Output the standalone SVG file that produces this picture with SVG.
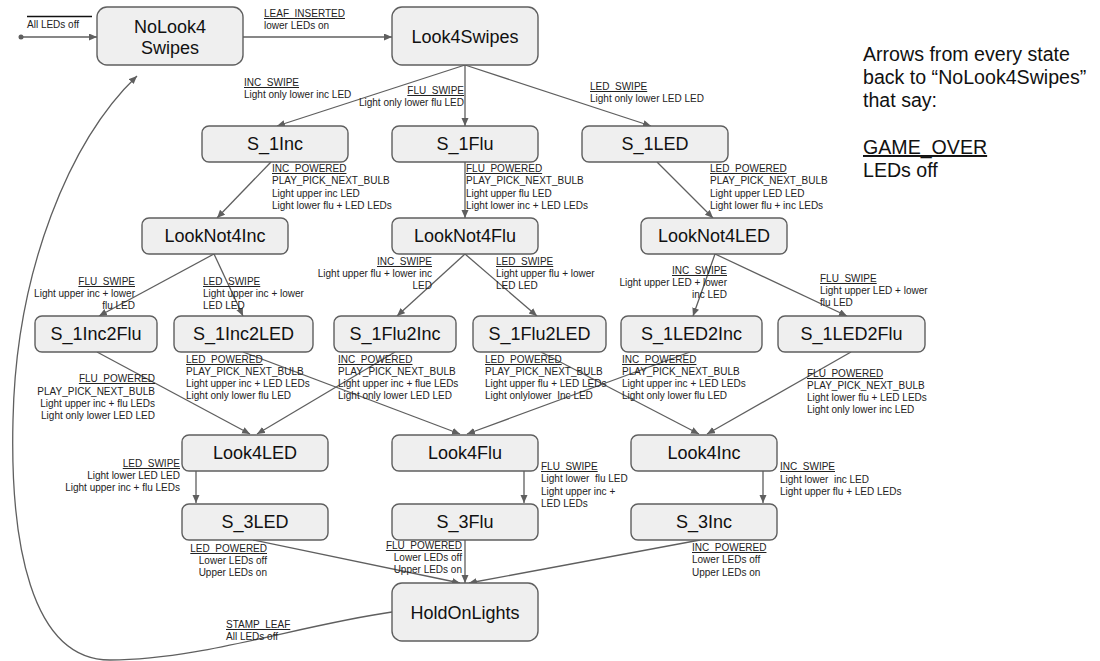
<svg xmlns="http://www.w3.org/2000/svg" width="1100" height="661" viewBox="0 0 1100 661">
<style>
.n rect{fill:#efefef;stroke:#5f5f5f;stroke-width:1.4}
.n text{font-family:"Liberation Sans",Arial,sans-serif;font-size:18px;fill:#111;text-anchor:middle}
.e path,.e line{stroke:#5f5f5f;stroke-width:1.3;fill:none}
.l{font-family:"Liberation Sans",Arial,sans-serif;font-size:10px;fill:#222}
.u{text-decoration:underline}
.r{text-anchor:end}
.big{font-family:"Liberation Sans",Arial,sans-serif;font-size:19.6px;fill:#111}
</style>
<defs>
<marker id="a" markerUnits="userSpaceOnUse" markerWidth="9" markerHeight="8" refX="8" refY="3.5" orient="auto">
<path d="M0,0 L8,3.5 L0,7 z" fill="#5f5f5f"/>
</marker>
</defs>
<rect width="1100" height="661" fill="#fff"/>

<g class="e" id="connectors" marker-end="url(#a)">
<line x1="21" y1="37" x2="97" y2="37"/>
<line x1="243" y1="37" x2="392" y2="37"/>
<line x1="465" y1="65" x2="277" y2="126"/>
<line x1="465" y1="65" x2="465" y2="126"/>
<line x1="465" y1="65" x2="651" y2="126"/>
<line x1="271" y1="162" x2="217" y2="218"/>
<line x1="465" y1="162" x2="465" y2="218"/>
<line x1="657" y1="162" x2="713" y2="218"/>
<line x1="214" y1="254" x2="99" y2="316"/>
<line x1="214" y1="254" x2="243" y2="316"/>
<line x1="465" y1="254" x2="397" y2="316"/>
<line x1="465" y1="254" x2="537" y2="316"/>
<line x1="715" y1="254" x2="693" y2="316"/>
<line x1="715" y1="254" x2="847" y2="316"/>
<line x1="97" y1="352" x2="250" y2="434"/>
<line x1="243" y1="352" x2="460" y2="434"/>
<line x1="395" y1="352" x2="257" y2="434"/>
<line x1="541" y1="352" x2="699" y2="434"/>
<line x1="690" y1="352" x2="467" y2="434"/>
<line x1="851" y1="352" x2="707" y2="434"/>
<line x1="196" y1="471" x2="196" y2="503"/>
<line x1="524" y1="471" x2="524" y2="503"/>
<line x1="763" y1="471" x2="763" y2="503"/>
<line x1="253" y1="540" x2="460" y2="583"/>
<line x1="465" y1="540" x2="465" y2="583"/>
<line x1="700" y1="540" x2="469" y2="583"/>
<path d="M392,612 C300,625 200,660 110,660 C30,660 10,540 13,420 C16,270 70,140 137,76"/>
</g>
<circle cx="21" cy="37" r="2.5" fill="#5f5f5f"/>

<g id="labels">
<line x1="27" y1="16.5" x2="92" y2="16.5" stroke="#111" stroke-width="1.5"/>
<text class="l" x="27" y="28">All LEDs off</text>
<text class="l u" x="264" y="17">LEAF_INSERTED</text>
<text class="l" x="264" y="29">lower LEDs on</text>
<text class="l u" x="244" y="86">INC_SWIPE</text>
<text class="l" x="244" y="98">Light only lower inc LED</text>
<text class="l u r" x="464" y="94">FLU_SWIPE</text>
<text class="l r" x="464" y="106">Light only lower flu LED</text>
<text class="l u" x="590" y="90">LED_SWIPE</text>
<text class="l" x="590" y="102">Light only lower LED LED</text>

<text class="l u" x="272" y="172">INC_POWERED</text>
<text class="l" x="272" y="184">PLAY_PICK_NEXT_BULB</text>
<text class="l" x="272" y="197">Light upper inc LED</text>
<text class="l" x="272" y="209">Light lower flu + LED LEDs</text>
<text class="l u" x="466" y="172">FLU_POWERED</text>
<text class="l" x="466" y="184">PLAY_PICK_NEXT_BULB</text>
<text class="l" x="466" y="197">Light upper flu LED</text>
<text class="l" x="466" y="209">Light lower inc + LED LEDs</text>
<text class="l u" x="710" y="172">LED_POWERED</text>
<text class="l" x="710" y="184">PLAY_PICK_NEXT_BULB</text>
<text class="l" x="710" y="197">Light upper LED LED</text>
<text class="l" x="710" y="209">Light lower flu + inc LEDs</text>

<text class="l u r" x="135" y="285">FLU_SWIPE</text>
<text class="l r" x="135" y="297">Light upper inc + lower</text>
<text class="l r" x="135" y="309">flu LED</text>
<text class="l u" x="203" y="285">LED_SWIPE</text>
<text class="l" x="203" y="297">Light upper inc + lower</text>
<text class="l" x="203" y="309">LED LED</text>
<text class="l u r" x="432" y="265">INC_SWIPE</text>
<text class="l r" x="432" y="277">Light upper flu + lower inc</text>
<text class="l r" x="432" y="289">LED</text>
<text class="l u" x="496" y="265">LED_SWIPE</text>
<text class="l" x="496" y="277">Light upper flu + lower</text>
<text class="l" x="496" y="289">LED LED</text>
<text class="l u r" x="727" y="274">INC_SWIPE</text>
<text class="l r" x="727" y="286">Light upper LED + lower</text>
<text class="l r" x="727" y="298">inc LED</text>
<text class="l u" x="820" y="282">FLU_SWIPE</text>
<text class="l" x="820" y="294">Light upper LED + lower</text>
<text class="l" x="820" y="306">flu LED</text>

<text class="l u r" x="155" y="382">FLU_POWERED</text>
<text class="l r" x="155" y="395">PLAY_PICK_NEXT_BULB</text>
<text class="l r" x="155" y="407">Light upper inc + flu LEDs</text>
<text class="l r" x="155" y="419">Light only lower LED LED</text>
<text class="l u" x="186" y="363">LED_POWERED</text>
<text class="l" x="186" y="375">PLAY_PICK_NEXT_BULB</text>
<text class="l" x="186" y="387">Light upper inc + LED LEDs</text>
<text class="l" x="186" y="399">Light only lower flu LED</text>
<text class="l u" x="338" y="363">INC_POWERED</text>
<text class="l" x="338" y="375">PLAY_PICK_NEXT_BULB</text>
<text class="l" x="338" y="387">Light upper inc + flue LEDs</text>
<text class="l" x="338" y="399">Light only lower LED LED</text>
<text class="l u" x="485" y="363">LED_POWERED</text>
<text class="l" x="485" y="375">PLAY_PICK_NEXT_BULB</text>
<text class="l" x="485" y="387">Light upper flu + LED LEDs</text>
<text class="l" x="485" y="399" xml:space="preserve">Light onlylower  Inc LED</text>
<text class="l u" x="622" y="363">INC_POWERED</text>
<text class="l" x="622" y="375">PLAY_PICK_NEXT_BULB</text>
<text class="l" x="622" y="387">Light upper inc + LED LEDs</text>
<text class="l" x="622" y="399">Light only lower flu LED</text>
<text class="l u" x="807" y="377">FLU_POWERED</text>
<text class="l" x="807" y="389">PLAY_PICK_NEXT_BULB</text>
<text class="l" x="807" y="401">Light lower flu + LED LEDs</text>
<text class="l" x="807" y="413">Light only lower inc LED</text>

<text class="l u r" x="180" y="467">LED_SWIPE</text>
<text class="l r" x="180" y="479">Light lower LED LED</text>
<text class="l r" x="180" y="491">Light upper inc + flu LEDs</text>
<text class="l u" x="541" y="470">FLU_SWIPE</text>
<text class="l" x="541" y="482" xml:space="preserve">Light lower  flu LED</text>
<text class="l" x="541" y="495">Light upper inc +</text>
<text class="l" x="541" y="507">LED LEDs</text>
<text class="l u" x="780" y="470">INC_SWIPE</text>
<text class="l" x="780" y="483" xml:space="preserve">Light lower  inc LED</text>
<text class="l" x="780" y="495">Light upper flu + LED LEDs</text>

<text class="l u r" x="267" y="552">LED_POWERED</text>
<text class="l r" x="267" y="564">Lower LEDs off</text>
<text class="l r" x="267" y="576">Upper LEDs on</text>
<text class="l u r" x="462" y="549">FLU_POWERED</text>
<text class="l r" x="462" y="561">Lower LEDs off</text>
<text class="l r" x="462" y="573">Upper LEDs on</text>
<text class="l u" x="692" y="551">INC_POWERED</text>
<text class="l" x="692" y="563">Lower LEDs off</text>
<text class="l" x="692" y="576">Upper LEDs on</text>
<text class="l u" x="226" y="628">STAMP_LEAF</text>
<text class="l" x="226" y="640">All LEDs off</text>
</g>

<g id="note">
<text class="big" x="863" y="61">Arrows from every state</text>
<text class="big" x="863" y="84">back to “NoLook4Swipes”</text>
<text class="big" x="863" y="107">that say:</text>
<text class="big u" x="863" y="154">GAME_OVER</text>
<text class="big" x="863" y="177">LEDs off</text>
</g>

<g class="n" id="NoLook4Swipes"><rect x="97" y="7" width="146" height="58" rx="10"/><text x="170" y="33">NoLook4</text><text x="170" y="54">Swipes</text></g>
<g class="n" id="Look4Swipes"><rect x="392" y="7" width="146" height="58" rx="10"/><text x="465" y="43">Look4Swipes</text></g>
<g class="n" id="S_1Inc"><rect x="202" y="126" width="146" height="36" rx="7"/><text x="275" y="150">S_1Inc</text></g>
<g class="n" id="S_1Flu"><rect x="392" y="126" width="146" height="36" rx="7"/><text x="465" y="150">S_1Flu</text></g>
<g class="n" id="S_1LED"><rect x="582" y="126" width="146" height="36" rx="7"/><text x="655" y="150">S_1LED</text></g>
<g class="n" id="LookNot4Inc"><rect x="142" y="218" width="146" height="36" rx="7"/><text x="215" y="242">LookNot4Inc</text></g>
<g class="n" id="LookNot4Flu"><rect x="392" y="218" width="146" height="36" rx="7"/><text x="465" y="242">LookNot4Flu</text></g>
<g class="n" id="LookNot4LED"><rect x="641" y="218" width="146" height="36" rx="7"/><text x="714" y="242">LookNot4LED</text></g>
<g class="n" id="S_1Inc2Flu"><rect x="35" y="316" width="122" height="36" rx="7"/><text x="96" y="340">S_1Inc2Flu</text></g>
<g class="n" id="S_1Inc2LED"><rect x="174" y="316" width="139" height="36" rx="7"/><text x="243.5" y="340">S_1Inc2LED</text></g>
<g class="n" id="S_1Flu2Inc"><rect x="334" y="316" width="122" height="36" rx="7"/><text x="395" y="340">S_1Flu2Inc</text></g>
<g class="n" id="S_1Flu2LED"><rect x="473" y="316" width="133" height="36" rx="7"/><text x="539.5" y="340">S_1Flu2LED</text></g>
<g class="n" id="S_1LED2Inc"><rect x="621" y="316" width="141" height="36" rx="7"/><text x="691.5" y="340">S_1LED2Inc</text></g>
<g class="n" id="S_1LED2Flu"><rect x="778" y="316" width="147" height="36" rx="7"/><text x="851.5" y="340">S_1LED2Flu</text></g>
<g class="n" id="Look4LED"><rect x="182" y="435" width="146" height="36" rx="7"/><text x="255" y="459">Look4LED</text></g>
<g class="n" id="Look4Flu"><rect x="392" y="435" width="146" height="36" rx="7"/><text x="465" y="459">Look4Flu</text></g>
<g class="n" id="Look4Inc"><rect x="631" y="435" width="146" height="36" rx="7"/><text x="704" y="459">Look4Inc</text></g>
<g class="n" id="S_3LED"><rect x="182" y="504" width="146" height="36" rx="7"/><text x="255" y="528">S_3LED</text></g>
<g class="n" id="S_3Flu"><rect x="392" y="504" width="146" height="36" rx="7"/><text x="465" y="528">S_3Flu</text></g>
<g class="n" id="S_3Inc"><rect x="631" y="504" width="146" height="36" rx="7"/><text x="704" y="528">S_3Inc</text></g>
<g class="n" id="HoldOnLights"><rect x="392" y="583" width="146" height="58" rx="10"/><text x="465" y="619">HoldOnLights</text></g>
</svg>
